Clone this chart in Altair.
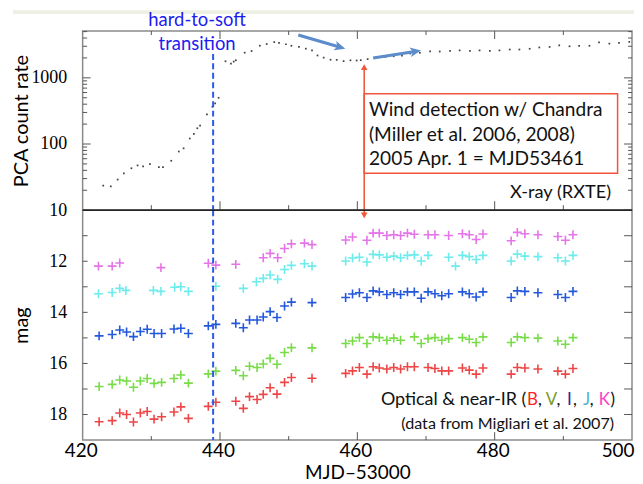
import altair as alt
import pandas as pd

# ---------------- data ----------------
xray_t = [423.0, 424.1, 425.1, 426.0, 427.1, 428.0, 428.8, 429.8, 431.1, 431.7, 432.9, 434.0,
          434.7, 435.6, 436.2, 436.7, 437.1, 438.1, 438.9, 439.3, 439.8, 440.8, 441.6, 442.0,
          442.3, 443.6, 444.6, 445.8, 446.8, 447.9, 448.6, 449.6, 450.4, 451.5, 452.5, 453.4,
          454.2, 455.1, 456.1, 457.0, 458.0, 459.0, 459.9, 460.5, 461.5, 462.8, 464.1, 465.3,
          466.5, 467.7, 469.1, 470.6, 472.0, 473.5, 474.9, 476.4, 477.8, 479.3, 480.7, 482.2,
          483.6, 485.1, 486.5, 488.0, 489.4, 490.9, 492.3, 493.8, 495.2, 496.7, 498.1, 499.6]
xray_rate = [23.5, 22.9, 29, 36, 43, 47.5, 46, 49.7, 44.7, 44.7, 55.8, 77,
             86, 121, 142, 173, 190, 281, 366, 411, 500, 1780, 1640, 1760,
             1846, 2400, 2546, 3060, 3240, 3470, 3390, 3220, 3050, 2930, 2760, 2600,
             2180, 2020, 1880, 1870, 1790, 1840, 1830, 1850, 1920, 2020, 2070, 2120,
             2170, 2330, 2390, 2510, 2500, 2550, 2600, 2550, 2600, 2550, 2600, 2680,
             2680, 2750, 2880, 2930, 3100, 3000, 3050, 3050, 3440, 3290, 3370, 3500]

K_t = [422.3, 424.3, 425.4, 431.4, 438.3, 439.4, 442.3, 446.3, 447.3, 448.4, 449.4, 450.4, 452.3, 453.4,
       458.3, 459.3, 461.4, 462.3, 463.2, 464.3, 465.3, 466.3, 467.3, 468.3, 470.3, 471.3, 473.3,
       475.3, 476.3, 477.3, 478.3, 482.4, 483.3, 484.4, 486.3, 489.2, 490.3, 491.4]
K_mag = [12.19, 12.19, 12.07, 12.25, 12.08, 12.15, 12.12, 11.86, 11.69, 11.86, 11.5, 11.32, 11.29, 11.35,
         11.17, 11.05, 11.18, 10.9, 10.9, 10.99, 10.96, 10.99, 10.9, 10.94, 10.96, 10.96, 10.99,
         10.92, 10.96, 11.15, 10.93, 11.2, 10.87, 10.92, 10.96, 11.03, 11.18, 10.96]

J_t = [422.3, 424.3, 425.4, 426.3, 430.3, 431.4, 433.4, 434.3, 435.4, 439.4, 443.4, 445.3, 446.3,
       447.3, 448.4, 449.4, 450.4, 452.3, 453.4,
       458.3, 459.3, 460.3, 461.4, 462.3, 463.2, 464.3, 465.3, 466.3, 467.3, 468.3, 469.3, 470.3,
       473.3, 474.3, 475.3, 476.3, 477.3, 478.3, 482.4, 483.3, 484.4, 486.3, 489.2, 490.3, 491.4]
J_mag = [13.27, 13.22, 13.06, 13.14, 13.14, 13.18, 13.02, 13.0, 13.18, 12.98, 13.06, 12.8, 12.67,
         12.54, 12.71, 12.32, 12.16, 12.1, 12.19,
         11.99, 11.87, 11.84, 12.03, 11.73, 11.75, 11.84, 11.8, 11.86, 11.77, 11.75, 11.99, 11.77,
         11.84, 12.19, 11.77, 11.82, 11.93, 11.77, 11.99, 11.72, 11.8, 11.82, 11.86, 11.99, 11.77]

I_t = [422.4, 424.3, 425.4, 426.4, 427.4, 428.4, 429.4, 430.4, 431.5, 433.3, 434.3, 435.4, 438.3,
       439.4, 442.3, 443.4, 444.3, 445.4, 446.3, 447.3, 448.3, 449.4, 450.4, 453.4,
       458.3, 459.3, 460.3, 461.4, 462.3, 463.2, 464.3, 465.3, 466.3, 467.3, 468.3, 469.3, 470.3,
       471.3, 472.3, 473.3, 475.3, 476.3, 477.3, 478.3, 482.4, 483.3, 484.4, 486.3, 489.2, 490.3, 491.4]
I_mag = [14.92, 14.87, 14.69, 14.77, 14.95, 14.75, 14.66, 14.83, 14.83, 14.65, 14.62, 14.83, 14.53,
         14.47, 14.43, 14.6, 14.3, 14.3, 14.18, 13.97, 14.2, 13.75, 13.6, 13.62,
         13.42, 13.28, 13.23, 13.42, 13.16, 13.2, 13.3, 13.23, 13.3, 13.2, 13.2, 13.45, 13.2,
         13.27, 13.35, 13.27, 13.2, 13.27, 13.4, 13.2, 13.42, 13.16, 13.18, 13.23, 13.3, 13.42, 13.18]

V_t = [422.4, 424.3, 425.4, 426.4, 427.4, 428.4, 429.4, 430.4, 431.5, 433.3, 434.3, 435.4, 438.3,
       439.4, 442.3, 443.4, 444.3, 445.4, 446.3, 447.3, 448.3, 449.4, 450.4, 453.4,
       458.3, 459.3, 460.3, 461.4, 462.3, 463.2, 464.3, 465.3, 466.3, 468.3, 469.3, 470.3,
       471.3, 472.3, 473.3, 475.3, 476.3, 477.3, 478.3, 482.4, 483.3, 484.4, 486.3, 489.2, 490.3, 491.4]
V_mag = [16.9, 16.82, 16.65, 16.69, 16.93, 16.69, 16.59, 16.78, 16.74, 16.59, 16.45, 16.77, 16.41,
         16.3, 16.27, 16.48, 16.11, 16.16, 16.02, 15.8, 16.03, 15.57, 15.38, 15.39,
         15.22, 15.12, 14.99, 15.22, 14.96, 14.99, 15.09, 15.01, 15.09, 14.96, 15.22, 15.03,
         14.99, 15.09, 15.03, 14.99, 15.05, 15.18, 14.96, 15.18, 14.96, 14.99, 15.01, 15.12, 15.25, 14.99]

B_t = [422.4, 424.3, 425.4, 426.4, 427.4, 428.4, 429.4, 430.4, 431.5, 433.3, 434.3, 435.4, 438.3,
       439.4, 442.3, 443.4, 444.3, 445.4, 446.3, 447.3, 448.3, 449.4, 450.4, 453.4,
       458.3, 459.3, 460.3, 461.4, 462.3, 463.2, 464.3, 465.3, 466.3, 467.3, 468.3, 470.3,
       471.3, 472.3, 473.3, 475.3, 476.3, 477.3, 478.3, 482.4, 483.3, 484.4, 486.3, 489.2, 490.3, 491.4]
B_mag = [18.28, 18.24, 17.94, 18.0, 18.29, 17.94, 17.88, 18.18, 18.09, 17.9, 17.7, 18.15, 17.68,
         17.52, 17.48, 17.76, 17.3, 17.41, 17.21, 16.95, 17.2, 16.74, 16.55, 16.58,
         16.39, 16.29, 16.16, 16.42, 16.13, 16.18, 16.22, 16.16, 16.22, 16.13, 16.13, 16.16,
         16.2, 16.29, 16.29, 16.18, 16.26, 16.42, 16.18, 16.42, 16.16, 16.18, 16.22, 16.3, 16.42, 16.2]

bands = ["B", "V", "I", "J", "K"]
band_colors = ["#ee4646", "#78dc48", "#2458dc", "#6cecec", "#e474e8"]

x_major = [440, 460, 480]
x_minor = [430, 450, 470, 490]
x_labels = [420, 440, 460, 480, 500]
rate_labels = [10, 100, 1000]
rate_minor = [20, 30, 40, 50, 60, 70, 80, 90, 200, 300, 400, 500, 600, 700, 800, 900,
              2000, 3000, 4000, 5000]
mag_labels = [12, 14, 16, 18]
mag_ticks = [11, 12, 13, 14, 15, 16, 17, 18]

# annotation anchors (data space)
transition_t = 439.0
chandra_t = 461.0
arrow_t0 = [451.4, 462.3]
arrow_r0 = [4440, 1995]
arrow_t1 = [457.4, 468.4]
arrow_r1 = [2925, 2500]
arrow_ang = [106, 81]
box_t = [461.0, 497.9]
box_r = [574, 36]

# legend line pieces: text, colour, anchor (MJD), alignment
leg_txt = ["Optical & near-IR (", "B", ",", "V", ",", "I", ",", "J", ",", "K", ")"]
leg_col = ["#111111", "#ff2222", "#111111", "#7a9a30", "#111111", "#262aa0", "#111111",
           "#4fb2d8", "#111111", "#ff3fc4", "#111111"]
leg_t = [484.62, 484.7, 486.3, 487.45, 489.0, 490.55, 491.4, 492.85, 493.85, 495.15, 496.85]
leg_al = ["right", "left", "left", "left", "left", "left", "left", "left", "left", "left", "left"]

# ---------------- chart ----------------
W, H1, H2 = 552, 180, 231
FONT = "Lato"
TICK = "#555555"

xs = alt.Scale(domain=[420, 500], nice=False, zero=False)
ys_top = alt.Scale(type="log", domain=[10, 5100], nice=False)
ys_bot = alt.Scale(domain=[10, 19], reverse=True, nice=False, zero=False)

NB = "\u00a0"
ax_top_y = alt.Axis(values=rate_labels, format="d", labelFont="Liberation Serif",
                    labelFontSize=18, labelColor="#000", ticks=False, tickSize=0,
                    domain=False, grid=False, labelPadding=16,
                    title="PCA count rate" + NB * 5, titleFont=FONT, titleFontSize=20,
                    titleFontWeight="normal", titleColor="#000",
                    minExtent=49, maxExtent=49, titlePadding=2)
ax_bot_y = alt.Axis(values=mag_labels, format="d", labelFont="Liberation Serif",
                    labelFontSize=18, labelColor="#000", ticks=False, tickSize=0,
                    domain=False, grid=False, labelPadding=16,
                    title="mag", titleFont=FONT, titleFontSize=20,
                    titleFontWeight="normal", titleColor="#000",
                    minExtent=49, maxExtent=49, titlePadding=2)
ax_bot_x = alt.Axis(values=x_labels, format="d", labelFont=FONT, labelFontSize=19,
                    labelColor="#000", ticks=False, tickSize=0, domain=False,
                    grid=False, labelPadding=2, title="MJD\u201353000",
                    titleFont=FONT, titleFontSize=19, titleFontWeight="normal",
                    titleColor="#000", titlePadding=3, labelFlush=False,
                    labelAlign={"condition": {"test": "datum.value >= 500", "value": "right"},
                                "value": "center"},
                    labelOffset={"condition": {"test": "datum.value >= 500", "value": 2},
                                 "value": -2})


def panel(xaxis, yscale, yaxis):
    def xe(f="t"):
        return alt.X(f"{f}:Q", scale=xs, axis=xaxis)

    def ye(f):
        return alt.Y(f"{f}:Q", scale=yscale, axis=yaxis)
    return xe, ye


xt, yt = panel(None, ys_top, ax_top_y)
xb, yb = panel(ax_bot_x, ys_bot, ax_bot_y)


def yticks(ye, vals, x0, x1):
    return alt.Chart(pd.DataFrame({"v": vals})).mark_rule(color=TICK, strokeWidth=1).encode(
        y=ye("v"), x=alt.value(x0), x2=alt.value(x1))


def xticks(xe, vals, y0, y1):
    return alt.Chart(pd.DataFrame({"v": vals})).mark_rule(color=TICK, strokeWidth=1).encode(
        x=xe("v"), y=alt.value(y0), y2=alt.value(y1))


# ---- top panel (X-ray) ----
# slide header band above the figure
band = alt.Chart(pd.DataFrame({"t": [420]})).mark_rect(color="#edf0e2").encode(
    x=alt.value(-70), x2=alt.value(W + 2), y=alt.value(-21), y2=alt.value(-17))

xray_df = pd.DataFrame({"t": xray_t, "rate": xray_rate})
top_pts = alt.Chart(xray_df).mark_square(size=3, color="#222222", opacity=0.85).encode(
    x=xt(), y=yt("rate"))

dash_top = alt.Chart(pd.DataFrame({"t": [transition_t], "a": [2300], "b": [10]})).mark_rule(
    color="#2a5ae8", strokeWidth=2, strokeDash=[6, 3.5]).encode(
    x=xt(), y=yt("a"), y2="b:Q")

red_line_top = alt.Chart(pd.DataFrame({"t": [chandra_t], "a": [1450], "b": [10]})).mark_rule(
    color="#ee5a3c", strokeWidth=1.6).encode(x=xt(), y=yt("a"), y2="b:Q")
red_head_top = alt.Chart(pd.DataFrame({"t": [chandra_t], "a": [1450]})).mark_point(
    shape="triangle-up", filled=True, size=45, color="#ee5a3c", opacity=1).encode(
    x=xt(), y=yt("a"))

arrows_df = pd.DataFrame({"t0": arrow_t0, "r0": arrow_r0, "t1": arrow_t1, "r1": arrow_r1,
                          "ang": arrow_ang})
blue_lines = alt.Chart(arrows_df).mark_rule(color="#5d8ccc", strokeWidth=3.2).encode(
    x=xt("t0"), x2="t1:Q", y=yt("r0"), y2="r1:Q")
blue_heads = alt.Chart(arrows_df).mark_point(
    shape="M0,-1L0.8,0.8L0,0.35L-0.8,0.8Z", filled=True, size=150, color="#5d8ccc",
    opacity=1).encode(x=xt("t1"), y=yt("r1"), angle=alt.Angle("ang:Q", scale=None))

box = alt.Chart(pd.DataFrame({"a": [box_t[0]], "b": [box_t[1]], "c": [box_r[0]],
                              "d": [box_r[1]]})).mark_rect(
    fill="white", stroke="#f0543a", strokeWidth=1.5).encode(
    x=xt("a"), x2="b:Q", y=yt("c"), y2="d:Q")

box_text = alt.Chart(pd.DataFrame({"t": [461.7], "r": [268]})).mark_text(
    align="left", baseline="alphabetic", font=FONT, fontSize=19.2, color="#111",
    lineHeight=25).encode(
    x=xt(), y=yt("r"),
    text=alt.value(["Wind detection w/ Chandra", "(Miller et al. 2006, 2008)",
                    "2005 Apr. 1 = MJD53461"]))

hard_text = alt.Chart(pd.DataFrame({"t": [436.67, 436.67], "r": [7450, 3245],
                                    "txt": ["hard-to-soft", "transition"]})).mark_text(
    font=FONT, fontSize=18.5, baseline="middle", align="center", color="#1c1cf0").encode(
    x=xt(), y=yt("r"), text="txt:N")
rxte_text = alt.Chart(pd.DataFrame({"t": [496.96], "r": [15.1], "txt": ["X-ray (RXTE)"]})).mark_text(
    font=FONT, fontSize=18.3, baseline="alphabetic", align="right", color="#111").encode(
    x=xt(), y=yt("r"), text="txt:N")

top = alt.layer(
    top_pts, band,
    yticks(yt, rate_labels, 0, 8), yticks(yt, rate_minor, 0, 4.5),
    yticks(yt, rate_labels, W - 8, W), yticks(yt, rate_minor, W - 4, W),
    xticks(xt, x_major, 0, 8), xticks(xt, x_minor, 0, 4),
    xticks(xt, x_major, H1 - 9, H1), xticks(xt, x_minor, H1 - 5, H1),
    dash_top, blue_lines, blue_heads, box, red_line_top, red_head_top,
    box_text, hard_text, rxte_text,
).properties(width=W, height=H1)

# ---- bottom panel (optical / near-IR) ----
rows = []
for b, ts, ms in [("B", B_t, B_mag), ("V", V_t, V_mag), ("I", I_t, I_mag),
                  ("J", J_t, J_mag), ("K", K_t, K_mag)]:
    for t, m in zip(ts, ms):
        rows.append({"t": t, "mag": m, "band": b})
opt_df = pd.DataFrame(rows)

bot_pts = alt.Chart(opt_df).mark_point(
    shape="M-1,0L1,0M0,-1L0,1", size=80, strokeWidth=1.6, filled=False, opacity=1).encode(
    x=xb(), y=yb("mag"),
    color=alt.Color("band:N", scale=alt.Scale(domain=bands, range=band_colors), legend=None),
)

dash_bot = alt.Chart(pd.DataFrame({"t": [transition_t], "a": [10], "b": [19]})).mark_rule(
    color="#2a5ae8", strokeWidth=2, strokeDash=[6, 3.5]).encode(
    x=xb(), y=yb("a"), y2="b:Q")

red_line_bot = alt.Chart(pd.DataFrame({"t": [chandra_t], "a": [10], "b": [10.2]})).mark_rule(
    color="#ee5a3c", strokeWidth=1.6).encode(x=xb(), y=yb("a"), y2="b:Q")
red_head_bot = alt.Chart(pd.DataFrame({"t": [chandra_t], "a": [10.2]})).mark_point(
    shape="triangle-down", filled=True, size=45, color="#ee5a3c", opacity=1).encode(
    x=xb(), y=yb("a"))

divider = alt.Chart(pd.DataFrame({"t": [420], "b": [500], "m": [10]})).mark_rule(
    color="#000", strokeWidth=1.2).encode(x=xb(), x2="b:Q", y=yb("m"))

leg_df = pd.DataFrame({"t": leg_t, "m": [17.62] * len(leg_t), "txt": leg_txt, "col": leg_col,
                       "al": leg_al})
legend_left = alt.Chart(leg_df[leg_df.al == "left"]).mark_text(
    font=FONT, fontSize=17, align="left", baseline="alphabetic").encode(
    x=xb(), y=yb("m"), text="txt:N", color=alt.Color("col:N", scale=None))
legend_right = alt.Chart(leg_df[leg_df.al == "right"]).mark_text(
    font=FONT, fontSize=18, align="right", baseline="alphabetic").encode(
    x=xb(), y=yb("m"), text="txt:N", color=alt.Color("col:N", scale=None))
src_text = alt.Chart(pd.DataFrame({"t": [497.39], "m": [18.55],
                                   "txt": ["(data from Migliari et al. 2007)"]})).mark_text(
    font=FONT, fontSize=16.2, align="right", baseline="alphabetic", color="#111").encode(
    x=xb(), y=yb("m"), text="txt:N")

bottom = alt.layer(
    bot_pts,
    yticks(yb, mag_ticks, 0, 5), yticks(yb, mag_ticks, W - 8, W),
    xticks(xb, x_major, H2 - 8, H2), xticks(xb, x_minor, H2 - 4, H2),
    dash_bot, red_line_bot, red_head_bot, divider, legend_left, legend_right, src_text,
).properties(width=W, height=H2)

chart = alt.vconcat(top, bottom, spacing=0, bounds="flush").configure_view(
    stroke="#8a8a8a", strokeWidth=1.5
).properties(
    padding={"left": 3, "top": 0, "right": 0, "bottom": 0}, background="white"
)

chart.save("out.html", embed_options={"renderer": "svg", "actions": False})
